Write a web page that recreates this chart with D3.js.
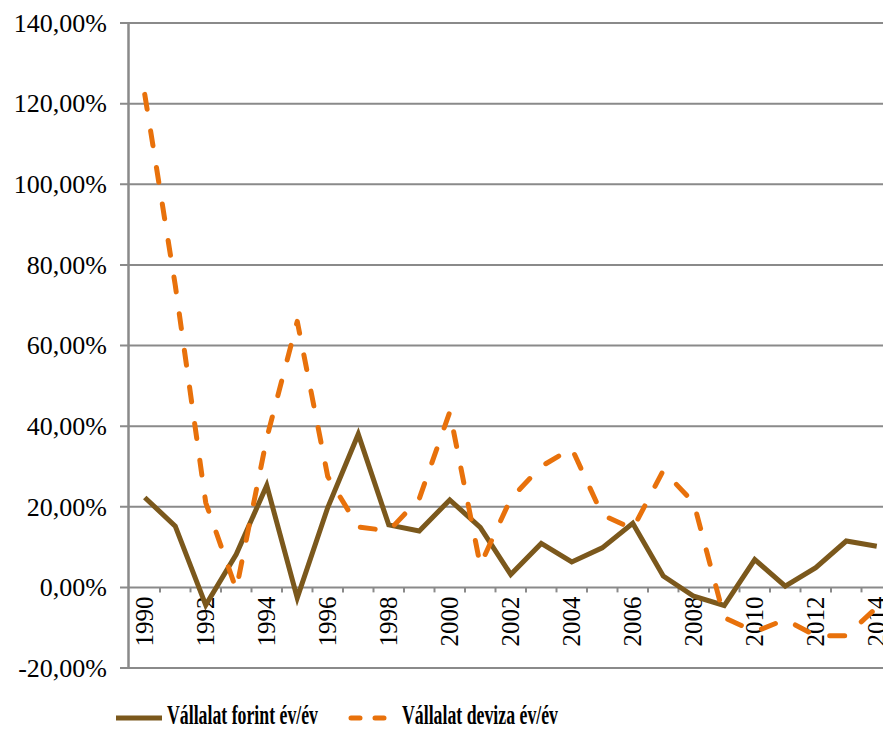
<!DOCTYPE html>
<html>
<head>
<meta charset="utf-8">
<script src="https://cdn.jsdelivr.net/npm/d3@7"></script>
<style>
  body { margin: 0; background: #fff; }
  svg { display: block; }
  text { font-family: "Times New Roman", "Liberation Serif", "DejaVu Serif", serif; }
</style>
</head>
<body>
<svg id="chart" width="883" height="730"></svg>
<script>
// data (percent, year over year)
var years = d3.range(1990, 2015);
var forint = [22.3, 15.2, -4.4, 8.2, 25.3, -2.6, 19.8, 38, 15.5, 14, 21.7, 14.9, 3.2,
              10.9, 6.3, 9.8, 15.9, 2.8, -2.2, -4.5, 6.9, 0.3, 4.9, 11.5, 10.2];
var deviza = [122.3, 75, 21, -0.5, 37, 66, 27.5, 15, 14, 22, 43.5, 5.5, 22,
              30, 34.5, 18, 14.5, 29, 21, -7.5, -11, -8, -12, -12, -5];
var yTicks = [-20, 0, 20, 40, 60, 80, 100, 120, 140];
var yearLabels = years.filter(function(d){ return d % 2 == 0 });
var seriesNames = ["Vállalat forint év/év", "Vállalat deviza év/év"];

var brown = "#7b581c",
    orange = "#e8710b",
    grid = "#8a8a8a";

var svg = d3.select("#chart");

var left = 129.5, right = 892;
var x = d3.scaleBand().domain(years).range([left, right]).padding(0);
var y = d3.scaleLinear().domain([-20, 140]).range([668, 23]);

var huLocale = d3.formatLocale({decimal: ",", thousands: " ", grouping: [3], currency: ["", ""], minus: "-"});
var pct = huLocale.format(".2f");

// horizontal gridlines (start left of the axis, acting as ticks)
svg.append("g")
    .selectAll("line")
    .data(yTicks)
    .enter()
    .append("line")
        .attr("x1", 120)
        .attr("x2", right)
        .attr("y1", function(d){ return y(d) })
        .attr("y2", function(d){ return y(d) })
        .attr("stroke", grid)
        .attr("stroke-width", 2);

// y labels
svg.append("g")
    .selectAll("text")
    .data(yTicks)
    .enter()
    .append("text")
        .attr("x", 107)
        .attr("y", function(d){ return y(d) })
        .attr("dy", "0.34em")
        .attr("text-anchor", "end")
        .attr("font-size", 26)
        .attr("fill", "#000")
        .text(function(d){ return pct(d) + "%" });

// vertical axis line
svg.append("line")
    .attr("x1", 128.5).attr("x2", 128.5)
    .attr("y1", y(140) - 1).attr("y2", y(-20) + 1)
    .attr("stroke", grid)
    .attr("stroke-width", 2.5);

// category axis on the zero line, ticks at band boundaries
var zeroY = y(0);
svg.append("g")
    .selectAll("line")
    .data(years)
    .enter()
    .append("line")
        .attr("x1", function(d){ return x(d) + x.bandwidth() })
        .attr("x2", function(d){ return x(d) + x.bandwidth() })
        .attr("y1", zeroY)
        .attr("y2", zeroY + 5)
        .attr("stroke", grid)
        .attr("stroke-width", 2);

svg.append("g")
    .selectAll("text")
    .data(yearLabels)
    .enter()
    .append("text")
        .attr("transform", function(d){
            return "translate(" + (x(d) + x.bandwidth() / 2) + "," + (zeroY + 9) + ") rotate(-90)";
        })
        .attr("dy", "0.34em")
        .attr("text-anchor", "end")
        .attr("font-size", 25)
        .attr("fill", "#000")
        .text(function(d){ return d });

// lines
var line = d3.line()
    .x(function(d, i){ return x(years[i]) + x.bandwidth() / 2 })
    .y(function(d){ return y(d) });

svg.append("path")
    .datum(forint)
    .attr("d", line)
    .attr("fill", "none")
    .attr("stroke", brown)
    .attr("stroke-width", 5)
    .attr("stroke-linejoin", "miter");

svg.append("path")
    .datum(deviza)
    .attr("d", line)
    .attr("fill", "none")
    .attr("stroke", orange)
    .attr("stroke-width", 5)
    .attr("stroke-linecap", "round")
    .attr("stroke-dasharray", "15,22")
    .attr("stroke-linejoin", "round");

// legend
var legend = svg.append("g");
legend.append("line")
    .attr("x1", 116).attr("x2", 162)
    .attr("y1", 718).attr("y2", 718)
    .attr("stroke", brown)
    .attr("stroke-width", 5);
legend.append("line")
    .attr("x1", 351).attr("x2", 388)
    .attr("y1", 718).attr("y2", 718)
    .attr("stroke", orange)
    .attr("stroke-width", 5)
    .attr("stroke-linecap", "round")
    .attr("stroke-dasharray", "9,15");

var legendX = [167, 402], legendW = [151, 156];
legend.selectAll("text")
    .data(seriesNames)
    .enter()
    .append("text")
        .attr("x", function(d, i){ return legendX[i] })
        .attr("y", 724)
        .attr("textLength", function(d, i){ return legendW[i] })
        .attr("lengthAdjust", "spacingAndGlyphs")
        .attr("font-size", 27)
        .attr("font-weight", "bold")
        .attr("fill", "#000")
        .text(function(d){ return d });
</script>
</body>
</html>
